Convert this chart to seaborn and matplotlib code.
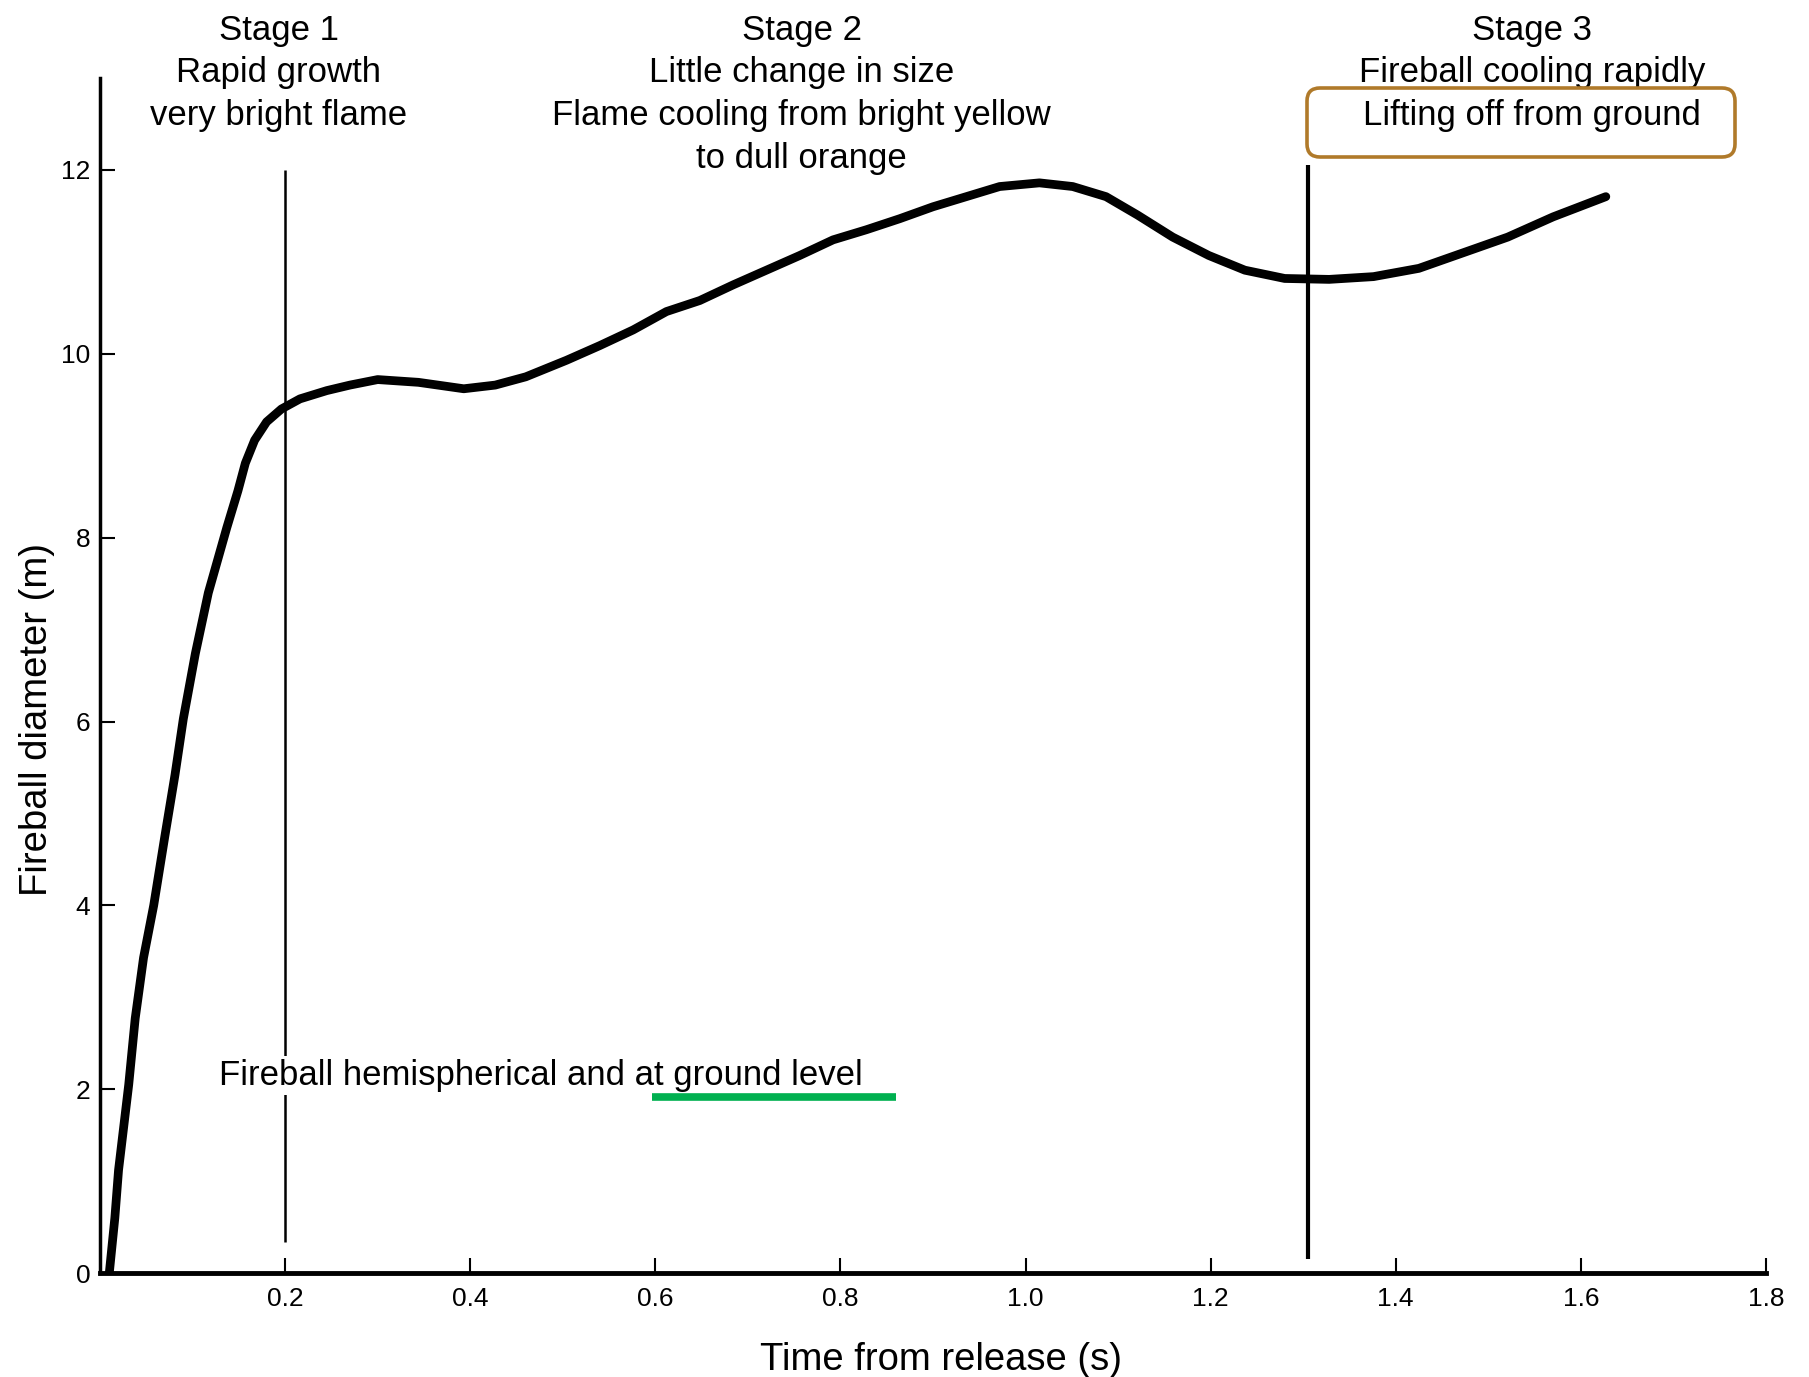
import matplotlib
matplotlib.use("Agg")
import matplotlib.pyplot as plt
from matplotlib.patches import FancyBboxPatch
import seaborn as sns
import pandas as pd

# ---- data ----
time_s = [0.010, 0.016, 0.020, 0.031, 0.038, 0.047, 0.058, 0.070, 0.081, 0.090,
          0.103, 0.117, 0.137, 0.149, 0.157, 0.167, 0.180, 0.196, 0.216, 0.245,
          0.270, 0.300, 0.344, 0.393, 0.427, 0.460, 0.504, 0.540, 0.576, 0.612,
          0.648, 0.684, 0.720, 0.756, 0.792, 0.828, 0.864, 0.900, 0.936, 0.972,
          1.015, 1.051, 1.087, 1.121, 1.159, 1.198, 1.237, 1.280, 1.328, 1.376,
          1.425, 1.473, 1.521, 1.570, 1.627]
diameter_m = [0.00, 0.60, 1.12, 2.05, 2.77, 3.43, 4.00, 4.75, 5.42, 6.03,
              6.74, 7.40, 8.11, 8.51, 8.81, 9.06, 9.26, 9.40, 9.51, 9.60,
              9.66, 9.72, 9.69, 9.62, 9.66, 9.75, 9.93, 10.09, 10.26, 10.46,
              10.58, 10.75, 10.91, 11.07, 11.24, 11.35, 11.47, 11.60, 11.71, 11.82,
              11.86, 11.82, 11.71, 11.51, 11.27, 11.07, 10.91, 10.82, 10.81, 10.84,
              10.93, 11.10, 11.27, 11.49, 11.71]

stage_bounds = [0.2, 1.305]
stage_line_bottom = [0.34, 0.15]
stage_line_top = [12.0, 12.05]
stage_x = [0.193, 0.758, 1.547]
stage_texts = ["Stage 1\nRapid growth\nvery bright flame",
               "Stage 2\nLittle change in size\nFlame cooling from bright yellow\nto dull orange",
               "Stage 3\nFireball cooling rapidly\nLifting off from ground"]
note_text = "Fireball hemispherical and at ground level"
note_pos = (0.129, 2.15)
underline_x = (0.596, 0.860)
underline_y = 1.91

x_ticks = [0.2, 0.4, 0.6, 0.8, 1.0, 1.2, 1.4, 1.6, 1.8]
x_ticklabels = ["0.2", "0.4", "0.6", "0.8", "1.0", "1.2", "1.4", "1.6", "1.8"]
y_ticks = [0, 2, 4, 6, 8, 10, 12]
y_ticklabels = ["0", "2", "4", "6", "8", "10", "12"]

df = pd.DataFrame({"t": time_s, "d": diameter_m})

sns.set_style("ticks")
plt.rcParams["font.family"] = ["Liberation Sans", "DejaVu Sans"]
plt.rcParams["text.color"] = "black"
plt.rcParams["axes.labelcolor"] = "black"
plt.rcParams["xtick.color"] = "black"
plt.rcParams["ytick.color"] = "black"

fig = plt.figure(figsize=(18.09, 13.77), dpi=100)
ax = fig.add_axes([0.0553, 0.0755, 0.9209, 0.8678])

sns.lineplot(data=df, x="t", y="d", ax=ax, color="black", linewidth=6.3,
             sort=False, estimator=None, solid_capstyle="round",
             solid_joinstyle="round")

ax.vlines(stage_bounds[0], stage_line_bottom[0], stage_line_top[0], color="black", linewidth=1.8)
ax.vlines(stage_bounds[1], stage_line_bottom[1], stage_line_top[1], color="black", linewidth=3.0)

ax.set_xlim(0, 1.8)
ax.set_ylim(0, 13)
ax.set_xticks(x_ticks)
ax.set_xticklabels(x_ticklabels)
ax.set_yticks(y_ticks)
ax.set_yticklabels(y_ticklabels)
ax.tick_params(axis="x", direction="in", length=11, width=1.5, pad=10, labelsize=19,
               colors="black")
ax.tick_params(axis="y", direction="in", length=11, width=1.5, pad=7, labelsize=19,
               colors="black")

for side in ["top", "right"]:
    ax.spines[side].set_visible(False)
ax.spines["left"].set_linewidth(2.5)
ax.spines["bottom"].set_linewidth(3.5)
ax.spines["left"].set_color("black")
ax.spines["bottom"].set_color("black")

ax.set_xlabel("Time from release (s)", fontsize=27.5, color="black")
ax.set_ylabel("Fireball diameter (m)", fontsize=27.5, color="black")
ax.yaxis.set_label_coords(-0.027, 0.463)
ax.xaxis.set_label_coords(0.505, -0.058)

for sx, st in zip(stage_x, stage_texts):
    ax.text(sx, 13.70, st, ha="center", va="top", fontsize=25,
            linespacing=1.37, clip_on=False, color="black")

ax.text(note_pos[0], note_pos[1], note_text, ha="left", va="center", fontsize=25,
        color="black", zorder=3,
        bbox=dict(facecolor="white", edgecolor="none", pad=2))
ax.hlines(underline_y, underline_x[0], underline_x[1], color="#00B050",
          linewidth=5.5, zorder=6)

box = FancyBboxPatch((13.07, 12.20), 17.35 - 13.07, 12.89 - 12.20,
                     boxstyle="round,pad=0,rounding_size=0.13",
                     transform=fig.dpi_scale_trans, facecolor="none",
                     edgecolor="#B07A2A", linewidth=2.6)
fig.patches.append(box)

fig.savefig("out.png", dpi=100, facecolor="white")
